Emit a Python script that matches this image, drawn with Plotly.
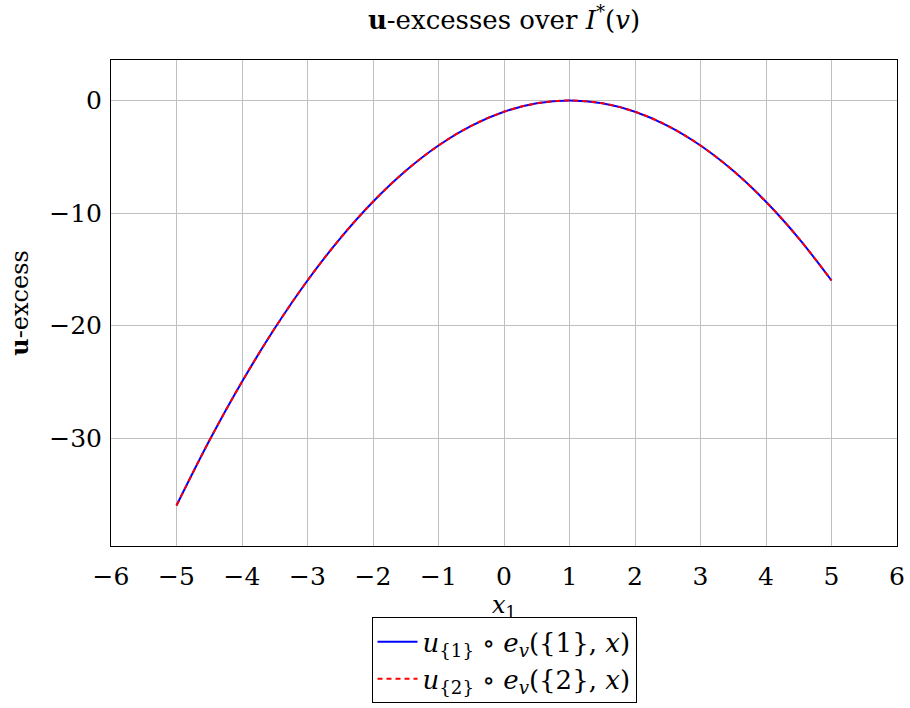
import plotly.graph_objects as go

x_vals = [-5, -4.5, -4, -3.5, -3, -2.5, -2, -1.5, -1, -0.5, 0, 0.5, 1, 1.5, 2, 2.5, 3, 3.5, 4, 4.5, 5]
y_set1 = [-36, -30.25, -25, -20.25, -16, -12.25, -9, -6.25, -4, -2.25, -1, -0.25, 0, -0.25, -1, -2.25, -4, -6.25, -9, -12.25, -16]
y_set2 = [-36, -30.25, -25, -20.25, -16, -12.25, -9, -6.25, -4, -2.25, -1, -0.25, 0, -0.25, -1, -2.25, -4, -6.25, -9, -12.25, -16]
x_ticks = [-6, -5, -4, -3, -2, -1, 0, 1, 2, 3, 4, 5, 6]
y_ticks = [0, -10, -20, -30]

def lab(v):
    return ("\u2212" + str(abs(v))) if v < 0 else str(v)

FONT = "DejaVu Serif, Liberation Serif, serif"

fig = go.Figure()
fig.add_trace(go.Scatter(
    x=x_vals, y=y_set1, mode="lines", line_shape="spline",
    line=dict(color="#0000ff", width=2),
    name="<i>u</i><sub>{1}</sub> \u2218 <i>e</i><sub><i>v</i></sub>({1}, <i>x</i>)"))
fig.add_trace(go.Scatter(
    x=x_vals, y=y_set2, mode="lines", line_shape="spline",
    line=dict(color="#ff0000", width=2, dash="5px,4px"),
    name="<i>u</i><sub>{2}</sub> \u2218 <i>e</i><sub><i>v</i></sub>({2}, <i>x</i>)"))

fig.update_layout(
    width=910, height=708,
    margin=dict(l=111, r=13, t=60, b=162, autoexpand=False),
    paper_bgcolor="white", plot_bgcolor="white",
    font=dict(family=FONT, size=25, color="black"),
    title=dict(text="<b>u</b>-excesses over <i>I</i><sup>*</sup>(<i>v</i>)",
               xref="paper", x=0.5, xanchor="center",
               yref="container", y=0.972, yanchor="middle",
               font=dict(family=FONT, size=26)),
    showlegend=True,
    legend=dict(x=0.5, xanchor="center", y=-0.147, yanchor="top",
                bordercolor="black", borderwidth=1, bgcolor="white",
                font=dict(family=FONT, size=26), tracegroupgap=0,
                itemwidth=40),
)
fig.update_xaxes(
    range=[-6, 6], tickvals=x_ticks, ticktext=[lab(v) for v in x_ticks],
    showgrid=True, gridcolor="#c0c0c0", gridwidth=1, automargin=False,
    showline=True, linecolor="black", linewidth=1, mirror=True,
    zeroline=False, ticks="", tickfont=dict(family=FONT, size=25),
    ticklabelstandoff=8,
    title=dict(text="<i>x</i><sub>1</sub>", standoff=0, font=dict(family=FONT, size=24)),
)
fig.update_yaxes(
    range=[-39.6, 3.6], tickvals=y_ticks, ticktext=[lab(v) for v in y_ticks],
    showgrid=True, gridcolor="#c0c0c0", gridwidth=1, automargin=False,
    showline=True, linecolor="black", linewidth=1, mirror=True,
    zeroline=False, ticks="", tickfont=dict(family=FONT, size=25),
    ticklabelstandoff=3,
    title=dict(text="<b>u</b>-excess", standoff=13, font=dict(family=FONT, size=24)),
)

fig.write_html("out.html", config={"displayModeBar": False},
               post_script="document.body.style.margin='0';")
